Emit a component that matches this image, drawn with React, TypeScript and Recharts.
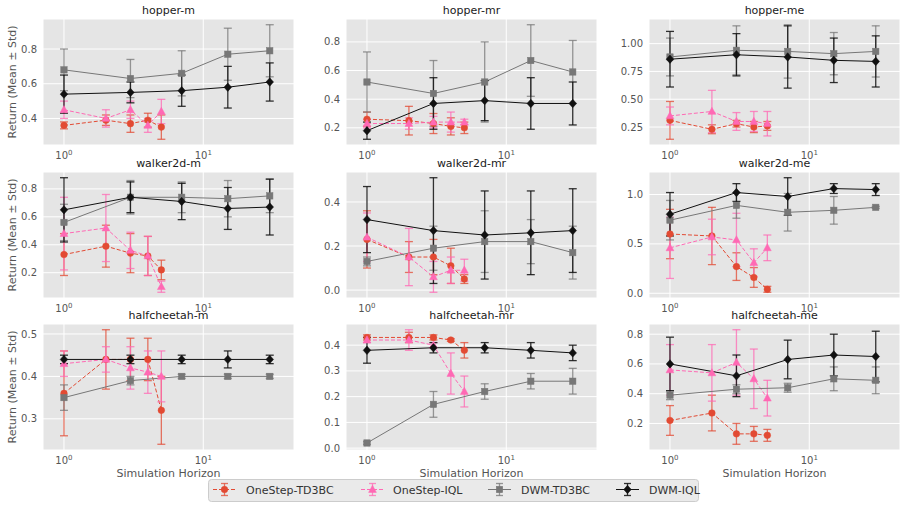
import React from 'react';
import { LineChart, Line, XAxis, YAxis, CartesianGrid, ErrorBar } from 'recharts';

const FONT = '"DejaVu Sans", Verdana, sans-serif';

// x positions (simulation horizon)
const ONESTEP_X = [1, 2, 3, 4, 5];
const DWM_X = [1, 3, 7, 15, 30];
const X_TICKS = [1, 10];
const X_DOMAIN = [0.707, 44.8];

const SERIES_NAMES = ['OneStep-TD3BC', 'OneStep-IQL', 'DWM-TD3BC', 'DWM-IQL'];
const SERIES_COLORS = ['#E24A33', '#FF69B4', '#777777', '#111111'];
const ERR_COLORS = ['rgba(226,74,51,0.75)', 'rgba(255,105,180,0.75)', 'rgba(119,119,119,0.75)', 'rgba(17,17,17,0.85)'];

const PANEL_TITLES = [
  'hopper-m', 'hopper-mr', 'hopper-me',
  'walker2d-m', 'walker2d-mr', 'walker2d-me',
  'halfcheetah-m', 'halfcheetah-mr', 'halfcheetah-me',
];

// ---- hopper-m
const hopperM_osTd3bc = [0.36, 0.39, 0.37, 0.39, 0.35];
const hopperM_osTd3bcStd = [0.02, 0.03, 0.05, 0.04, 0.07];
const hopperM_osIql = [0.45, 0.40, 0.45, 0.36, 0.44];
const hopperM_osIqlStd = [0.05, 0.05, 0.05, 0.04, 0.07];
const hopperM_dwmTd3bc = [0.68, 0.63, 0.66, 0.77, 0.79];
const hopperM_dwmTd3bcStd = [0.12, 0.11, 0.13, 0.15, 0.15];
const hopperM_dwmIql = [0.54, 0.55, 0.56, 0.58, 0.61];
const hopperM_dwmIqlStd = [0.11, 0.06, 0.09, 0.12, 0.11];
const hopperM_yTicks = [0.4, 0.6, 0.8];

// ---- hopper-mr
const hopperMr_osTd3bc = [0.26, 0.25, 0.23, 0.21, 0.20];
const hopperMr_osTd3bcStd = [0.05, 0.10, 0.07, 0.06, 0.04];
const hopperMr_osIql = [0.23, 0.23, 0.24, 0.24, 0.24];
const hopperMr_osIqlStd = [0.03, 0.04, 0.04, 0.07, 0.02];
const hopperMr_dwmTd3bc = [0.52, 0.44, 0.52, 0.67, 0.59];
const hopperMr_dwmTd3bcStd = [0.21, 0.23, 0.28, 0.25, 0.22];
const hopperMr_dwmIql = [0.18, 0.37, 0.39, 0.37, 0.37];
const hopperMr_dwmIqlStd = [0.06, 0.18, 0.14, 0.18, 0.15];
const hopperMr_yTicks = [0.2, 0.4, 0.6, 0.8];

// ---- hopper-me
const hopperMe_osTd3bc = [0.31, 0.23, 0.28, 0.25, 0.26];
const hopperMe_osTd3bcStd = [0.17, 0.04, 0.03, 0.05, 0.04];
const hopperMe_osIql = [0.35, 0.39, 0.30, 0.30, 0.28];
const hopperMe_osIqlStd = [0.08, 0.19, 0.08, 0.09, 0.11];
const hopperMe_dwmTd3bc = [0.88, 0.94, 0.93, 0.91, 0.93];
const hopperMe_dwmTd3bcStd = [0.17, 0.22, 0.24, 0.19, 0.23];
const hopperMe_dwmIql = [0.86, 0.90, 0.88, 0.85, 0.84];
const hopperMe_dwmIqlStd = [0.25, 0.19, 0.28, 0.20, 0.23];
const hopperMe_yTicks = [0.25, 0.5, 0.75, 1.0];

// ---- walker2d-m
const walkerM_osTd3bc = [0.33, 0.39, 0.34, 0.32, 0.22];
const walkerM_osTd3bcStd = [0.15, 0.15, 0.14, 0.14, 0.07];
const walkerM_osIql = [0.48, 0.52, 0.36, 0.32, 0.10];
const walkerM_osIqlStd = [0.26, 0.24, 0.13, 0.14, 0.04];
const walkerM_dwmTd3bc = [0.56, 0.74, 0.74, 0.73, 0.75];
const walkerM_dwmTd3bcStd = [0.13, 0.12, 0.11, 0.13, 0.12];
const walkerM_dwmIql = [0.65, 0.74, 0.71, 0.66, 0.67];
const walkerM_dwmIqlStd = [0.23, 0.11, 0.13, 0.15, 0.20];
const walkerM_yTicks = [0.2, 0.4, 0.6, 0.8];

// ---- walker2d-mr
const walkerMr_osTd3bc = [0.23, 0.15, 0.15, 0.11, 0.05];
const walkerMr_osTd3bcStd = [0.13, 0.07, 0.08, 0.08, 0.02];
const walkerMr_osIql = [0.24, 0.15, 0.06, 0.09, 0.09];
const walkerMr_osIqlStd = [0.11, 0.13, 0.07, 0.06, 0.05];
const walkerMr_dwmTd3bc = [0.13, 0.19, 0.22, 0.22, 0.17];
const walkerMr_dwmTd3bcStd = [0.02, 0.10, 0.14, 0.10, 0.12];
const walkerMr_dwmIql = [0.32, 0.27, 0.25, 0.26, 0.27];
const walkerMr_dwmIqlStd = [0.15, 0.24, 0.20, 0.19, 0.19];
const walkerMr_yTicks = [0.0, 0.2, 0.4];

// ---- walker2d-me
const walkerMe_osTd3bc = [0.60, 0.58, 0.27, 0.16, 0.04];
const walkerMe_osTd3bcStd = [0.25, 0.29, 0.14, 0.10, 0.03];
const walkerMe_osIql = [0.46, 0.57, 0.54, 0.31, 0.46];
const walkerMe_osIqlStd = [0.31, 0.18, 0.27, 0.14, 0.13];
const walkerMe_dwmTd3bc = [0.74, 0.89, 0.82, 0.84, 0.87];
const walkerMe_dwmTd3bcStd = [0.20, 0.13, 0.19, 0.14, 0.01];
const walkerMe_dwmIql = [0.80, 1.02, 0.98, 1.06, 1.05];
const walkerMe_dwmIqlStd = [0.22, 0.09, 0.19, 0.05, 0.06];
const walkerMe_yTicks = [0.0, 0.5, 1.0];

// ---- halfcheetah-m
const cheetahM_osTd3bc = [0.36, 0.44, 0.44, 0.44, 0.32];
const cheetahM_osTd3bcStd = [0.10, 0.07, 0.05, 0.05, 0.08];
const cheetahM_osIql = [0.43, 0.44, 0.42, 0.41, 0.40];
const cheetahM_osIqlStd = [0.03, 0.03, 0.05, 0.05, 0.06];
const cheetahM_dwmTd3bc = [0.35, 0.39, 0.40, 0.40, 0.40];
const cheetahM_dwmTd3bcStd = [0.03, 0.01, 0.005, 0.005, 0.005];
const cheetahM_dwmIql = [0.44, 0.44, 0.44, 0.44, 0.44];
const cheetahM_dwmIqlStd = [0.01, 0.01, 0.01, 0.02, 0.01];
const cheetahM_yTicks = [0.3, 0.4, 0.5];

// ---- halfcheetah-mr
const cheetahMr_osTd3bc = [0.43, 0.43, 0.43, 0.42, 0.38];
const cheetahMr_osTd3bcStd = [0.01, 0.02, 0.01, 0.005, 0.03];
const cheetahMr_osIql = [0.42, 0.42, 0.40, 0.29, 0.22];
const cheetahMr_osIqlStd = [0.01, 0.04, 0.01, 0.08, 0.06];
const cheetahMr_dwmTd3bc = [0.02, 0.17, 0.22, 0.26, 0.26];
const cheetahMr_dwmTd3bcStd = [0.005, 0.05, 0.03, 0.03, 0.05];
const cheetahMr_dwmIql = [0.38, 0.39, 0.39, 0.38, 0.37];
const cheetahMr_dwmIqlStd = [0.05, 0.02, 0.02, 0.03, 0.03];
const cheetahMr_yTicks = [0.0, 0.1, 0.2, 0.3, 0.4];

// ---- halfcheetah-me
const cheetahMe_osTd3bc = [0.22, 0.27, 0.13, 0.13, 0.12];
const cheetahMe_osTd3bcStd = [0.10, 0.12, 0.07, 0.05, 0.04];
const cheetahMe_osIql = [0.56, 0.54, 0.61, 0.50, 0.37];
const cheetahMe_osIqlStd = [0.17, 0.19, 0.22, 0.20, 0.12];
const cheetahMe_dwmTd3bc = [0.39, 0.43, 0.44, 0.50, 0.49];
const cheetahMe_dwmTd3bcStd = [0.03, 0.03, 0.03, 0.08, 0.09];
const cheetahMe_dwmIql = [0.60, 0.52, 0.63, 0.66, 0.65];
const cheetahMe_dwmIqlStd = [0.18, 0.14, 0.13, 0.14, 0.17];
const cheetahMe_yTicks = [0.2, 0.4, 0.6, 0.8];

// layout
const COL_LEFTS = [43, 346, 649];
const ROW_TOPS = [19, 172, 324];
const PLOT_W = 251;
const PLOT_H = 126;
const Y_AXIS_W = 40;
const X_AXIS_H = 20;
const M_TOP = 4;
const M_RIGHT = 4;

type Pt = { x: number; y: number; e: number };
const build = (xs: number[], m: number[], s: number[]): Pt[] => xs.map((x, i) => ({ x, y: m[i], e: s[i] }));

const mkPanel = (title: string, yTicks: number[], dec: number, a: number[][]) => ({
  title,
  yTicks,
  dec,
  series: [
    build(ONESTEP_X, a[0], a[1]),
    build(ONESTEP_X, a[2], a[3]),
    build(DWM_X, a[4], a[5]),
    build(DWM_X, a[6], a[7]),
  ],
});

const PANELS = [
  mkPanel(PANEL_TITLES[0], hopperM_yTicks, 1, [hopperM_osTd3bc, hopperM_osTd3bcStd, hopperM_osIql, hopperM_osIqlStd, hopperM_dwmTd3bc, hopperM_dwmTd3bcStd, hopperM_dwmIql, hopperM_dwmIqlStd]),
  mkPanel(PANEL_TITLES[1], hopperMr_yTicks, 1, [hopperMr_osTd3bc, hopperMr_osTd3bcStd, hopperMr_osIql, hopperMr_osIqlStd, hopperMr_dwmTd3bc, hopperMr_dwmTd3bcStd, hopperMr_dwmIql, hopperMr_dwmIqlStd]),
  mkPanel(PANEL_TITLES[2], hopperMe_yTicks, 2, [hopperMe_osTd3bc, hopperMe_osTd3bcStd, hopperMe_osIql, hopperMe_osIqlStd, hopperMe_dwmTd3bc, hopperMe_dwmTd3bcStd, hopperMe_dwmIql, hopperMe_dwmIqlStd]),
  mkPanel(PANEL_TITLES[3], walkerM_yTicks, 1, [walkerM_osTd3bc, walkerM_osTd3bcStd, walkerM_osIql, walkerM_osIqlStd, walkerM_dwmTd3bc, walkerM_dwmTd3bcStd, walkerM_dwmIql, walkerM_dwmIqlStd]),
  mkPanel(PANEL_TITLES[4], walkerMr_yTicks, 1, [walkerMr_osTd3bc, walkerMr_osTd3bcStd, walkerMr_osIql, walkerMr_osIqlStd, walkerMr_dwmTd3bc, walkerMr_dwmTd3bcStd, walkerMr_dwmIql, walkerMr_dwmIqlStd]),
  mkPanel(PANEL_TITLES[5], walkerMe_yTicks, 1, [walkerMe_osTd3bc, walkerMe_osTd3bcStd, walkerMe_osIql, walkerMe_osIqlStd, walkerMe_dwmTd3bc, walkerMe_dwmTd3bcStd, walkerMe_dwmIql, walkerMe_dwmIqlStd]),
  mkPanel(PANEL_TITLES[6], cheetahM_yTicks, 1, [cheetahM_osTd3bc, cheetahM_osTd3bcStd, cheetahM_osIql, cheetahM_osIqlStd, cheetahM_dwmTd3bc, cheetahM_dwmTd3bcStd, cheetahM_dwmIql, cheetahM_dwmIqlStd]),
  mkPanel(PANEL_TITLES[7], cheetahMr_yTicks, 1, [cheetahMr_osTd3bc, cheetahMr_osTd3bcStd, cheetahMr_osIql, cheetahMr_osIqlStd, cheetahMr_dwmTd3bc, cheetahMr_dwmTd3bcStd, cheetahMr_dwmIql, cheetahMr_dwmIqlStd]),
  mkPanel(PANEL_TITLES[8], cheetahMe_yTicks, 1, [cheetahMe_osTd3bc, cheetahMe_osTd3bcStd, cheetahMe_osIql, cheetahMe_osIqlStd, cheetahMe_dwmTd3bc, cheetahMe_dwmTd3bcStd, cheetahMe_dwmIql, cheetahMe_dwmIqlStd]),
];

function Marker({ kind, cx, cy, color }: { kind: number; cx: number; cy: number; color: string }) {
  if (kind === 0) return <circle cx={cx} cy={cy} r={3.3} fill={color} stroke={color} strokeWidth={0.5} />;
  if (kind === 1)
    return <polygon points={`${cx},${cy - 4.2} ${cx - 3.9},${cy + 2.9} ${cx + 3.9},${cy + 2.9}`} fill={color} stroke={color} strokeWidth={0.5} />;
  if (kind === 2) return <rect x={cx - 3.2} y={cy - 3.2} width={6.4} height={6.4} fill={color} stroke={color} strokeWidth={0.5} />;
  return <polygon points={`${cx},${cy - 4.2} ${cx + 3.8},${cy} ${cx},${cy + 4.2} ${cx - 3.8},${cy}`} fill={color} stroke={color} strokeWidth={0.5} />;
}

const makeDot = (kind: number) => (props: any) => {
  const { cx, cy, index } = props;
  if (cx == null || cy == null) return <g key={`d${kind}-${index}`} />;
  return <Marker key={`d${kind}-${index}`} kind={kind} cx={cx} cy={cy} color={SERIES_COLORS[kind]} />;
};

function XTick(props: any) {
  const { x, y, payload } = props;
  const exp = Math.round(Math.log10(payload.value));
  return (
    <text x={x} y={y} textAnchor="middle" fill="#555555" fontSize={10} fontFamily={FONT}>
      <tspan dy={14}>10</tspan>
      <tspan dy={-4.5} fontSize={7}>{exp}</tspan>
    </text>
  );
}

function Panel({ p, left, top }: { p: any; left: number; top: number }) {
  const all: Pt[] = p.series.flat();
  const lo = Math.min(...all.map((d) => d.y - d.e));
  const hi = Math.max(...all.map((d) => d.y + d.e));
  const pad = (hi - lo) * 0.05;
  return (
    <div style={{ position: 'absolute', left: left - Y_AXIS_W, top: top - M_TOP }}>
      <LineChart
        width={Y_AXIS_W + PLOT_W + M_RIGHT}
        height={M_TOP + PLOT_H + X_AXIS_H}
        margin={{ top: M_TOP, right: M_RIGHT, bottom: 0, left: 0 }}
      >
        <CartesianGrid fill="#E5E5E5" stroke="#FFFFFF" strokeWidth={1} fillOpacity={1} />
        <XAxis
          dataKey="x"
          type="number"
          scale="log"
          domain={X_DOMAIN}
          allowDataOverflow
          ticks={X_TICKS}
          interval={0}
          tick={<XTick />}
          axisLine={false}
          tickLine={false}
          tickSize={0}
          tickMargin={0}
          height={X_AXIS_H}
        />
        <YAxis
          type="number"
          domain={[lo - pad, hi + pad]}
          allowDataOverflow
          ticks={p.yTicks}
          interval={0}
          tickFormatter={(v: number) => v.toFixed(p.dec)}
          axisLine={false}
          tickLine={false}
          tickSize={4}
          tickMargin={2}
          width={Y_AXIS_W}
          tick={{ fill: '#555555', fontSize: 10, fontFamily: FONT }}
        />
        {p.series.map((data: Pt[], i: number) => (
          <Line
            key={SERIES_NAMES[i]}
            data={data}
            dataKey="y"
            name={SERIES_NAMES[i]}
            stroke={SERIES_COLORS[i]}
            strokeWidth={1}
            strokeDasharray={i < 2 ? '4 2' : undefined}
            dot={makeDot(i)}
            activeDot={false}
            isAnimationActive={false}
          >
            <ErrorBar dataKey="e" direction="y" width={4} stroke={ERR_COLORS[i]} strokeWidth={1.3} isAnimationActive={false} />
          </Line>
        ))}
      </LineChart>
    </div>
  );
}

function LegendIcon({ x, y, i }: { x: number; y: number; i: number }) {
  const c = SERIES_COLORS[i];
  const mid = x + 11.5;
  return (
    <g>
      <line x1={x} y1={y} x2={x + 23} y2={y} stroke={c} strokeWidth={1} strokeDasharray={i < 2 ? '4 2' : undefined} />
      <line x1={mid} y1={y - 6} x2={mid} y2={y + 6} stroke={ERR_COLORS[i]} strokeWidth={1.3} />
      <line x1={mid - 3.5} y1={y - 6} x2={mid + 3.5} y2={y - 6} stroke={ERR_COLORS[i]} strokeWidth={1.3} />
      <line x1={mid - 3.5} y1={y + 6} x2={mid + 3.5} y2={y + 6} stroke={ERR_COLORS[i]} strokeWidth={1.3} />
      <Marker kind={i} cx={mid} cy={y} color={c} />
    </g>
  );
}

const LEGEND_ICON_X = [213, 361, 488, 616];
const LEGEND_TEXT_X = [246, 393, 521, 649];

export default function App() {
  return (
    <div style={{ position: 'absolute', left: 0, top: 0, width: 906, height: 507, background: '#FFFFFF', overflow: 'hidden' }}>
      {PANELS.map((p, k) => (
        <Panel key={p.title} p={p} left={COL_LEFTS[k % 3]} top={ROW_TOPS[Math.floor(k / 3)]} />
      ))}
      <svg width={906} height={507} style={{ position: 'absolute', left: 0, top: 0, pointerEvents: 'none' }} fontFamily={FONT}>
        {PANELS.map((p, k) => (
          <text
            key={`t${k}`}
            x={COL_LEFTS[k % 3] + PLOT_W / 2}
            y={ROW_TOPS[Math.floor(k / 3)] - 5}
            textAnchor="middle"
            fontSize={11}
            fill="#1a1a1a"
          >
            {p.title}
          </text>
        ))}
        {ROW_TOPS.map((t, r) => (
          <text
            key={`yl${r}`}
            transform={`translate(12.5, ${t + PLOT_H / 2}) rotate(-90)`}
            textAnchor="middle"
            dominantBaseline="central"
            fontSize={11}
            fill="#555555"
          >
            Return (Mean ± Std)
          </text>
        ))}
        {COL_LEFTS.map((l, c) => (
          <text key={`xl${c}`} x={l + PLOT_W / 2} y={477} textAnchor="middle" fontSize={11} fill="#555555">
            Simulation Horizon
          </text>
        ))}
        <rect x={208.5} y={479.5} width={490} height={22} rx={3} fill="#E5E5E5" fillOpacity={0.8} stroke="#CCCCCC" strokeWidth={1} />
        {SERIES_NAMES.map((n, i) => (
          <g key={n}>
            <LegendIcon x={LEGEND_ICON_X[i]} y={489.5} i={i} />
            <text x={LEGEND_TEXT_X[i]} y={494} fontSize={11} fill="#333333">
              {n}
            </text>
          </g>
        ))}
      </svg>
    </div>
  );
}
